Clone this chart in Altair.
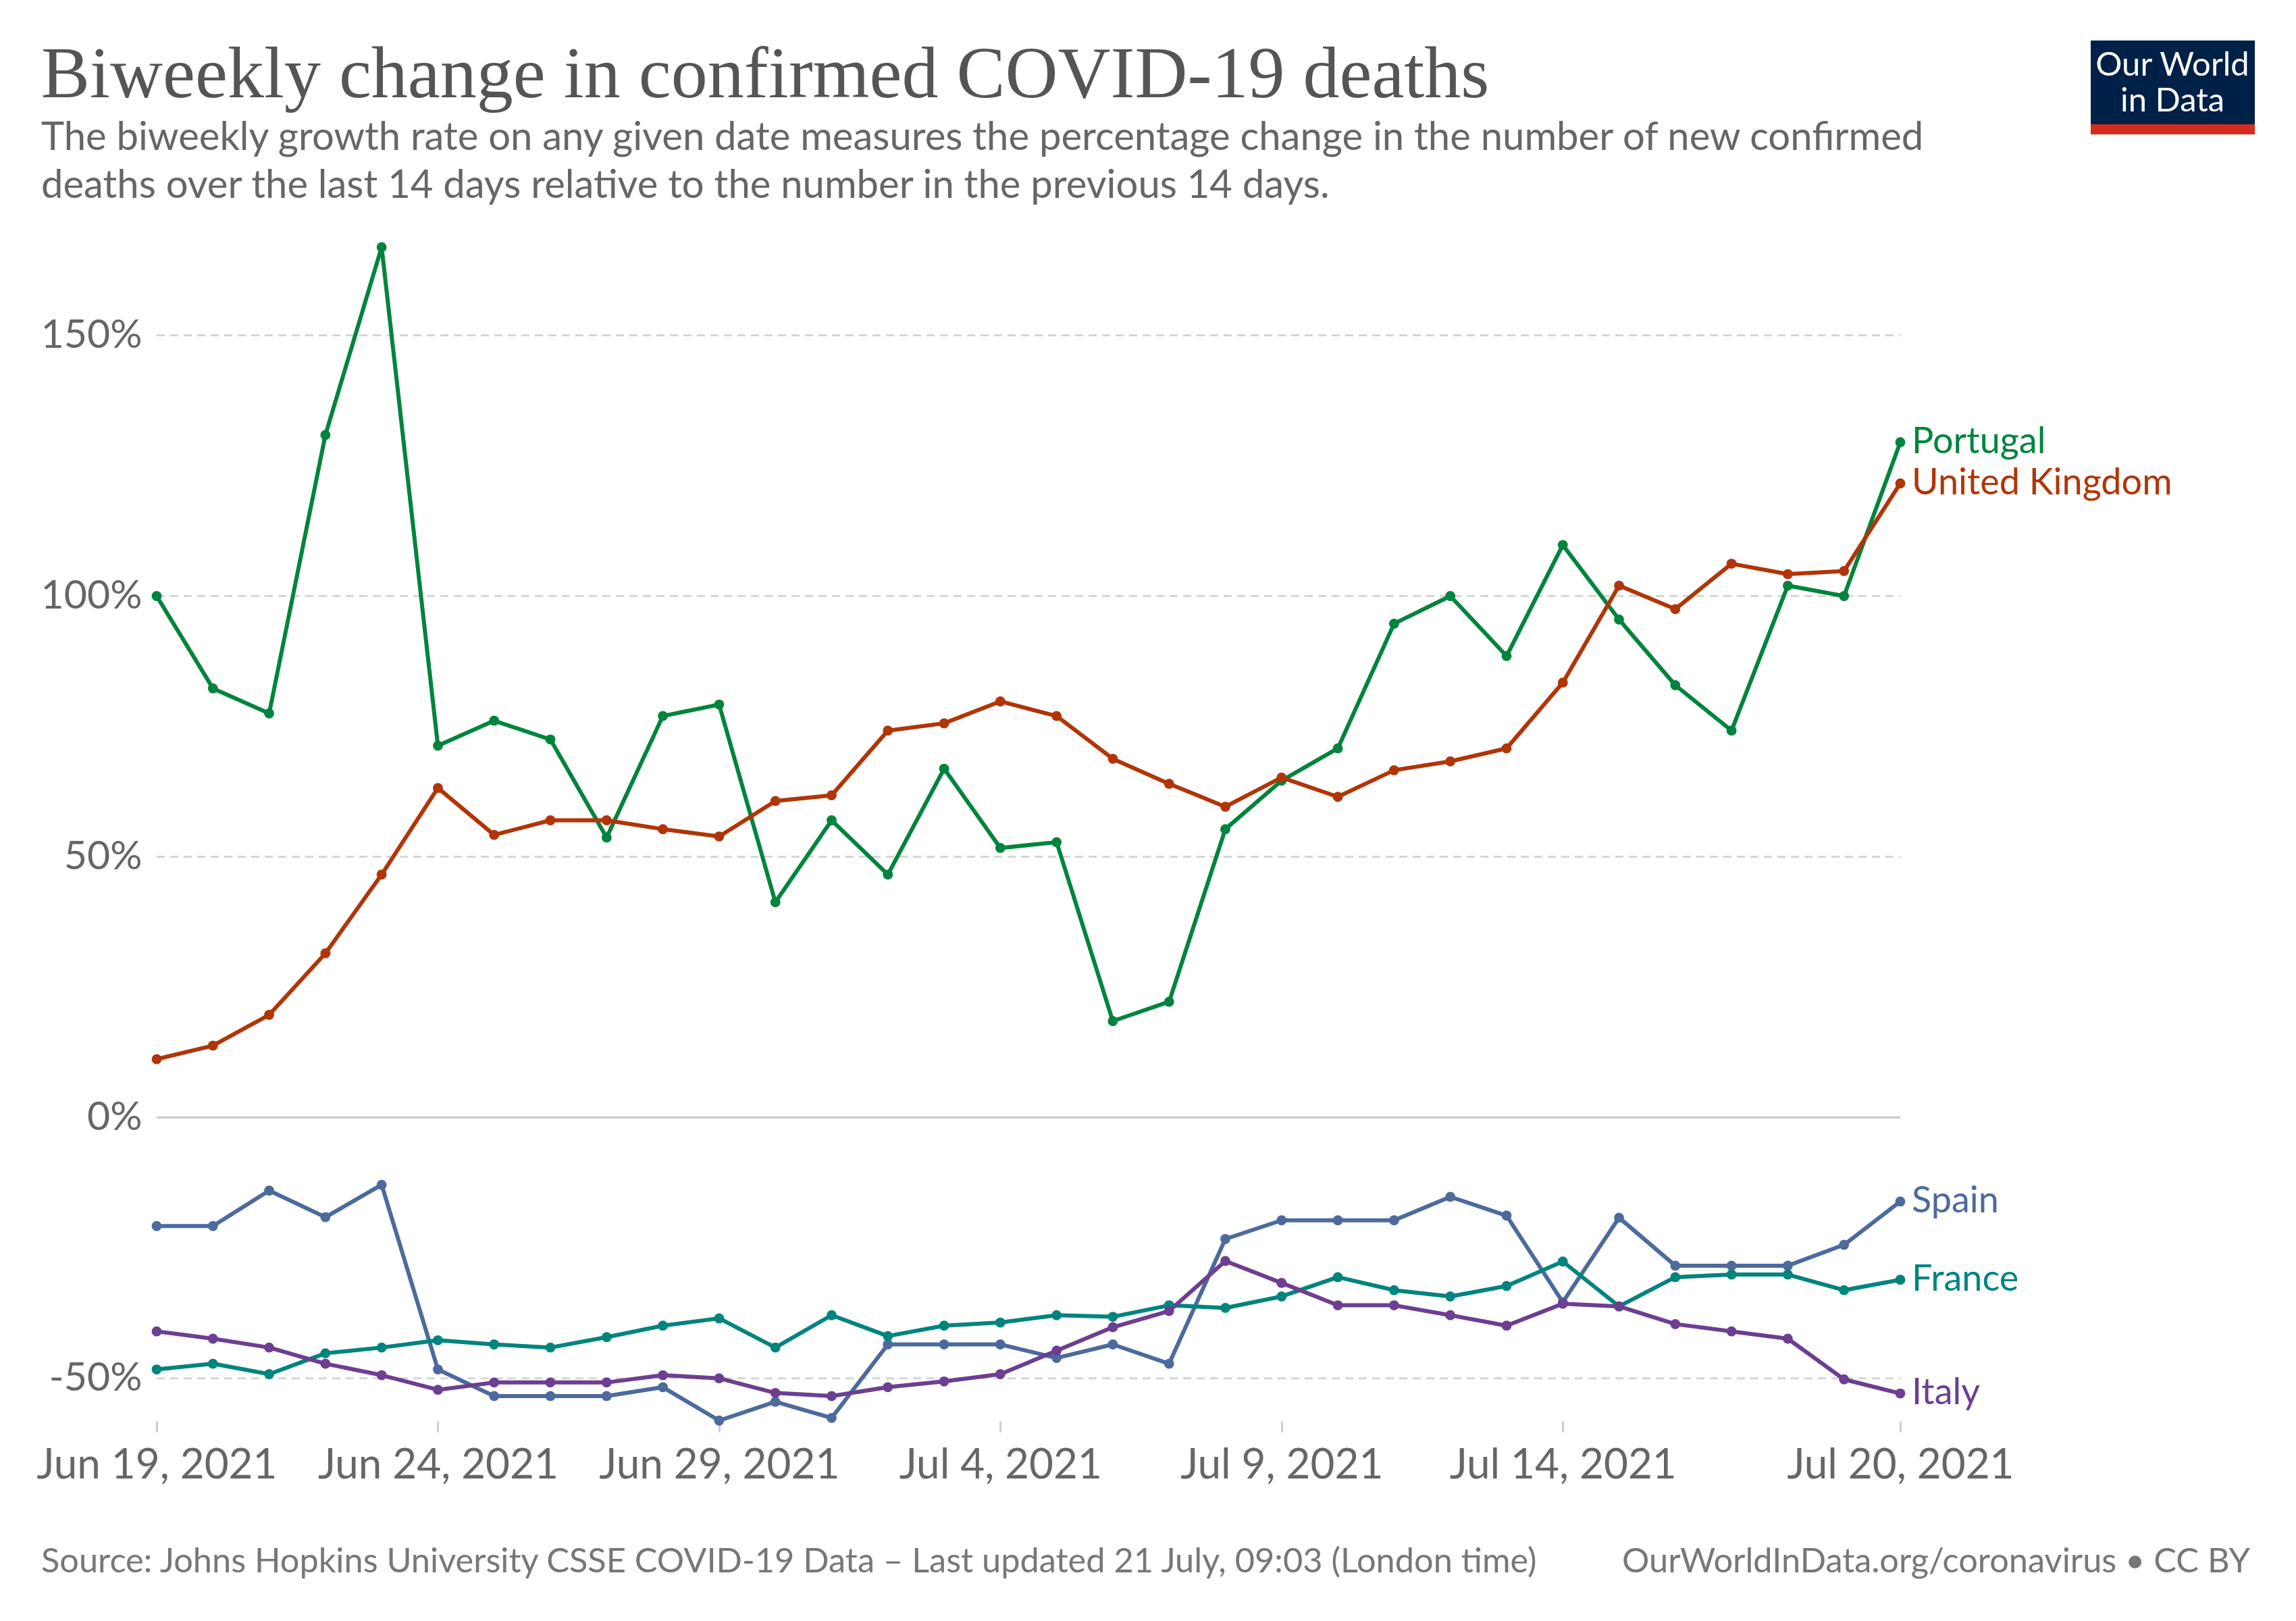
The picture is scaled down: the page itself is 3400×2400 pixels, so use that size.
import altair as alt
import pandas as pd

# ---------------- data ----------------
dates = pd.date_range("2021-06-19", "2021-07-20", freq="D").strftime("%Y-%m-%d").tolist()

countries = ["Portugal", "United Kingdom", "Spain", "France", "Italy"]
colors = ["#00843D", "#B13507", "#4C6A9C", "#00847E", "#6D3E91"]

portugal = [100, 82.3, 77.5, 130.9, 166.9, 71.3, 76.1, 72.5, 53.7, 77.0, 79.2,
            41.3, 57.0, 46.6, 66.9, 51.7, 52.8, 18.5, 22.2, 55.3, 64.6, 70.8,
            94.7, 100, 88.5, 109.8, 95.5, 82.9, 74.2, 102, 100, 129.5]
uk = [11.2, 13.8, 19.7, 31.5, 46.6, 63.2, 54.2, 57.0, 57.0, 55.3, 53.9,
      60.7, 61.8, 74.2, 75.6, 79.8, 77.0, 68.8, 64.0, 59.6, 65.2, 61.5,
      66.6, 68.3, 70.8, 83.4, 102, 97.5, 106.2, 104.2, 104.8, 121.6]
spain = [-20.8, -20.8, -14.0, -19.1, -12.9, -48.3, -53.4, -53.4, -53.4, -51.7, -58.1,
         -54.5, -57.6, -43.5, -43.5, -43.5, -46.1, -43.5, -47.2, -23.3, -19.7, -19.7,
         -19.7, -15.2, -18.8, -35.4, -19.2, -28.4, -28.4, -28.4, -24.4, -16.1]
france = [-48.3, -47.2, -49.2, -45.2, -44.1, -42.7, -43.5, -44.1, -42.1, -39.9, -38.5,
          -44.1, -37.9, -41.9, -39.9, -39.3, -37.9, -38.2, -36.0, -36.5, -34.3, -30.6,
          -33.1, -34.3, -32.3, -27.6, -36.2, -30.6, -30.1, -30.1, -33.1, -31.1]
italy = [-41.0, -42.4, -44.1, -47.2, -49.4, -52.2, -50.8, -50.8, -50.8, -49.4, -50.0,
         -52.8, -53.4, -51.7, -50.6, -49.2, -44.7, -40.2, -37.1, -27.5, -31.7, -36.0,
         -36.0, -37.9, -39.9, -35.7, -36.2, -39.6, -41.0, -42.4, -50.2, -52.9]

series = [portugal, uk, spain, france, italy]

y_ticks = [-50, 0, 50, 100, 150]
grid_values = [-50, 50, 100, 150]
x_tick_dates = [(2021, 6, 19), (2021, 6, 24), (2021, 6, 29), (2021, 7, 4),
                (2021, 7, 9), (2021, 7, 14), (2021, 7, 20)]

title_text = "Biweekly change in confirmed COVID-19 deaths"
subtitle_lines = [
    "The biweekly growth rate on any given date measures the percentage change in the number of new confirmed",
    "deaths over the last 14 days relative to the number in the previous 14 days.",
]
source_text = "Source: Johns Hopkins University CSSE COVID-19 Data – Last updated 21 July, 09:03 (London time)"
right_footer = "OurWorldInData.org/coronavirus • CC BY"

# ---------------- tables ----------------
rows = []
for c, vals in zip(countries, series):
    for d, v in zip(dates, vals):
        rows.append({"date": d, "country": c, "value": v})
df = pd.DataFrame(rows)
df_last = df[df["date"] == dates[-1]]
grid_df = pd.DataFrame({"value": grid_values})
zero_df = pd.DataFrame({"value": [0]})
dummy = pd.DataFrame({"a": [0]})

W, H = 2582, 1762
FONT = "Lato"

x_enc = alt.X(
    "date:T",
    scale=alt.Scale(
        type="utc",
        domain=[alt.DateTime(year=2021, month=6, date=19, utc=True),
                alt.DateTime(year=2021, month=7, date=20, utc=True)],
        nice=False,
    ),
    axis=alt.Axis(
        values=[alt.DateTime(year=y, month=m, date=d, utc=True) for (y, m, d) in x_tick_dates],
        labelExpr="utcFormat(datum.value, '%b %-d, %Y')",
        grid=False, domain=False, ticks=True, tickColor="#cccccc", tickSize=16, tickWidth=3,
        labelPadding=19, labelFontSize=62, labelColor="#666666", labelFont=FONT,
        labelFlush=False, labelOverlap=False, labelLimit=0, title=None,
    ),
)
y_enc = alt.Y(
    "value:Q",
    scale=alt.Scale(domain=[-58.2, 170], nice=False, zero=False),
    axis=alt.Axis(
        values=y_ticks, labelExpr="datum.value + '%'",
        grid=False, domain=False, ticks=False, labelPadding=22,
        labelFontSize=59, labelColor="#666666", labelFont=FONT, labelLimit=0, title=None,
    ),
)
color_enc = alt.Color("country:N", scale=alt.Scale(domain=countries, range=colors), legend=None)

grid = alt.Chart(grid_df).mark_rule(strokeDash=[12, 8], strokeWidth=3, color="#d6d6d6").encode(
    y=y_enc, x=alt.value(0), x2=alt.value(W))
zero = alt.Chart(zero_df).mark_rule(strokeWidth=3, color="#c8c8c8").encode(
    y=y_enc, x=alt.value(0), x2=alt.value(W))

base = alt.Chart(df).encode(x=x_enc, y=y_enc, color=color_enc,
                            order=alt.Order("date:T"))
lines = base.mark_line(strokeWidth=6, strokeJoin="round", strokeCap="round")
points = alt.Chart(df).mark_circle(size=220, opacity=1).encode(x=x_enc, y=y_enc, color=color_enc)
labels = alt.Chart(df_last).mark_text(align="left", baseline="middle", dx=17, fontSize=54, font=FONT).encode(
    x=x_enc, y=y_enc, color=color_enc, text="country:N")

def txt(text, x, y, size, color, align="left", font=FONT, baseline="alphabetic", weight="normal"):
    return alt.Chart(dummy).mark_text(
        align=align, baseline=baseline, fontSize=size, font=font, color=color, fontWeight=weight
    ).encode(x=alt.value(x), y=alt.value(y), text=alt.value(text))

title = txt(title_text, -171, -198, 108, "#555555", font="Liberation Serif")
sub1 = txt(subtitle_lines[0], -171, -120, 58, "#666666")
sub2 = txt(subtitle_lines[1], -171, -49, 58, "#666666")
foot_l = txt(source_text, -171, 1971, 50.5, "#777777", baseline="middle")
foot_r = txt(right_footer, 3100, 1971, 50.5, "#777777", align="right", baseline="middle")

logo_bg = alt.Chart(dummy).mark_rect(color="#002147").encode(
    x=alt.value(2864), x2=alt.value(3107), y=alt.value(-282), y2=alt.value(-158))
logo_bar = alt.Chart(dummy).mark_rect(color="#D42B21").encode(
    x=alt.value(2864), x2=alt.value(3107), y=alt.value(-158), y2=alt.value(-143))
logo_t1 = txt("Our World", 2985, -245, 49, "#ffffff", align="center", baseline="middle")
logo_t2 = txt("in Data", 2985, -192, 49, "#ffffff", align="center", baseline="middle")

chart = alt.layer(
    grid, zero, lines, points, labels,
    title, sub1, sub2, foot_l, foot_r, logo_bg, logo_bar, logo_t1, logo_t2,
).properties(
    width=W, height=H,
    autosize=alt.AutoSizeParams(type="none"),
    padding={"left": 224, "top": 334, "right": 560, "bottom": 260},
).configure(background="white").configure_view(stroke=None)

chart.save("out.html", embed_options={"renderer": "svg", "actions": False})
